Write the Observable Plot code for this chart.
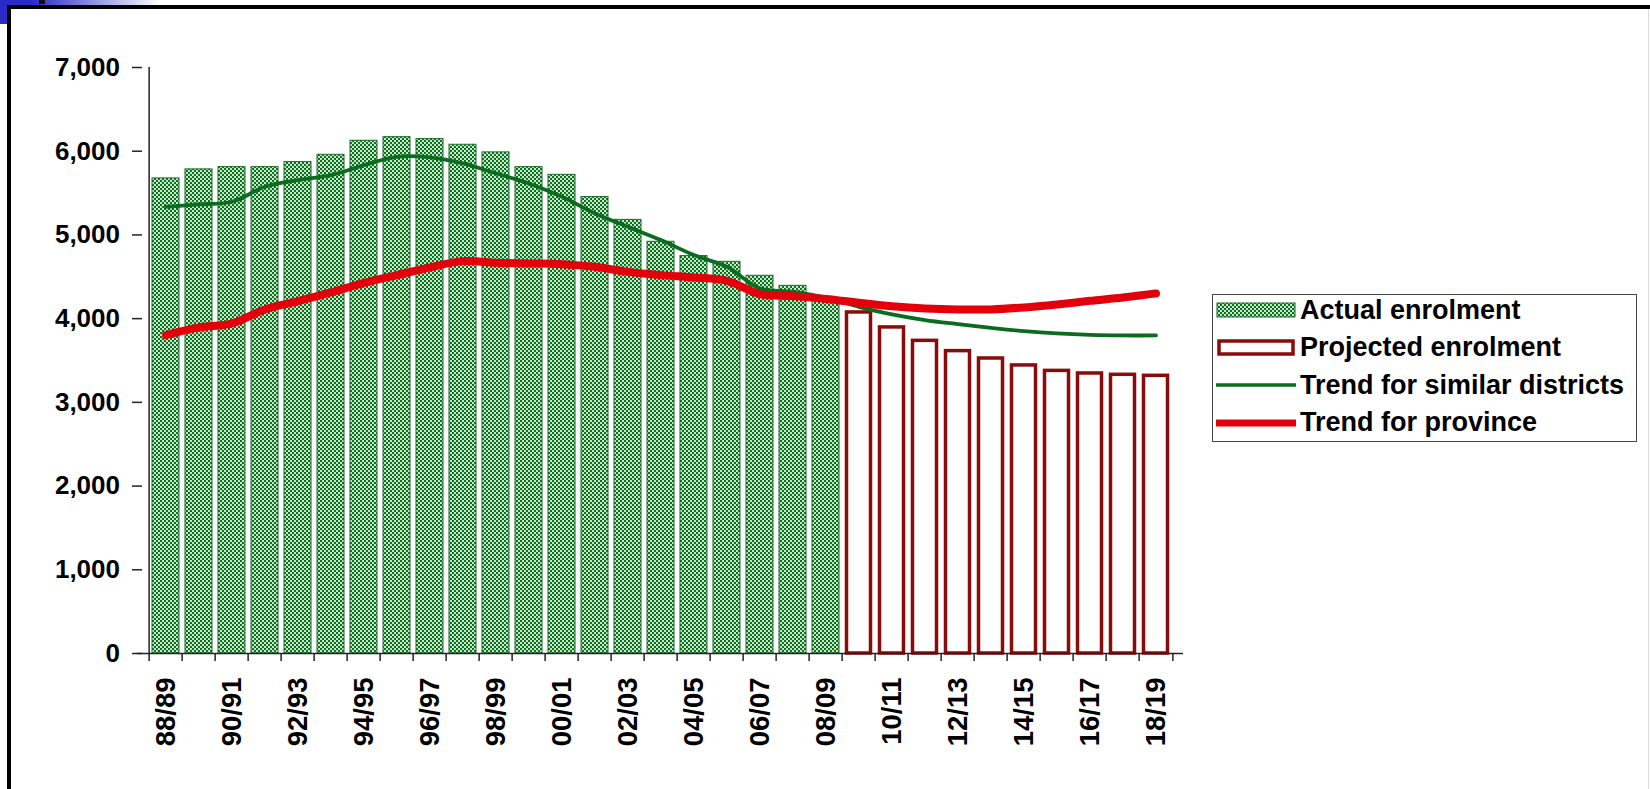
<!DOCTYPE html>
<html>
<head>
<meta charset="utf-8">
<script src="https://cdn.jsdelivr.net/npm/d3@7"></script>
<script src="https://cdn.jsdelivr.net/npm/@observablehq/plot@0.6"></script>
<style>
  html, body { margin: 0; padding: 0; background: #fff; }
  body { width: 1650px; height: 789px; position: relative; overflow: hidden; font-family: "Liberation Sans", Arial, sans-serif; }
  #chart { position: absolute; left: 0; top: 0; }
  .deco { position: absolute; }
  #legend { position: absolute; left: 1212px; top: 294px; width: 425px; height: 148px; box-sizing: border-box; border: 1.5px solid #444; background: #fff; }
  .row { position: absolute; left: 0; height: 36px; display: flex; align-items: center; }
  .row svg { display: block; margin-left: 3px; }
  .row span { font-weight: bold; font-size: 27px; color: #000; margin-left: 4px; white-space: nowrap; }
</style>
</head>
<body>
<svg width="0" height="0" style="position:absolute">
  <defs>
    <pattern id="chk" width="4" height="4" patternUnits="userSpaceOnUse">
      <rect width="4" height="4" fill="#c6eac7"></rect>
      <rect width="2" height="2" fill="#0f6e23"></rect>
      <rect x="2" y="2" width="2" height="2" fill="#0f6e23"></rect>
    </pattern>
  </defs>
</svg>
<div class="deco" style="left:0;top:0;width:160px;height:5px;background:linear-gradient(to right,#2a2ac8 0%,#2a2ac8 20%,#ffffff 100%);"></div>
<div class="deco" style="left:0;top:0;width:7px;height:24px;background:#2a2ac8;"></div>
<div class="deco" style="left:39px;top:0;width:6px;height:4px;background:#111;"></div>
<div id="chart"></div>
<div class="deco" style="left:7px;top:5px;width:1643px;height:4px;background:#000;"></div>
<div class="deco" style="left:7px;top:5px;width:4px;height:784px;background:#000;"></div>
<div class="deco" style="left:1648px;top:9px;width:1px;height:780px;background:#ddd;"></div>
<div id="legend"></div>
<script>
const years = ["88/89","89/90","90/91","91/92","92/93","93/94","94/95","95/96","96/97","97/98","98/99","99/00","00/01","01/02","02/03","03/04","04/05","05/06","06/07","07/08","08/09","09/10","10/11","11/12","12/13","13/14","14/15","15/16","16/17","17/18","18/19"];
const actualYears = years.slice(0, 21);
const projectedYears = years.slice(21);
const actualEnrolment = [5675, 5783, 5810, 5810, 5870, 5957, 6125, 6168, 6145, 6077, 5986, 5810, 5718, 5452, 5180, 4918, 4747, 4679, 4512, 4392, 4247];
const projectedEnrolment = [4074, 3895, 3735, 3612, 3524, 3441, 3376, 3345, 3329, 3317];
const trendSimilar = [5336, 5364, 5396, 5575, 5655, 5714, 5834, 5933, 5926, 5854, 5735, 5615, 5455, 5257, 5097, 4938, 4759, 4619, 4361, 4320, 4250, 4141, 4050, 3982, 3934, 3890, 3851, 3823, 3806, 3799, 3799];
const trendProvince = [3803, 3895, 3943, 4110, 4209, 4313, 4428, 4520, 4612, 4687, 4667, 4659, 4651, 4619, 4559, 4520, 4492, 4452, 4293, 4269, 4235, 4189, 4149, 4122, 4110, 4110, 4134, 4170, 4213, 4253, 4301];
const yTicks = [0, 1000, 2000, 3000, 4000, 5000, 6000, 7000];
const xLabelYears = years.filter((d, i) => i % 2 === 0);

const legendItems = [
  {label: "Actual enrolment", kind: "pattern"},
  {label: "Projected enrolment", kind: "outline"},
  {label: "Trend for similar districts", kind: "thin"},
  {label: "Trend for province", kind: "thick"}
];

const actualData = actualYears.map((y, i) => ({year: y, value: actualEnrolment[i]}));
const projectedData = projectedYears.map((y, i) => ({year: y, value: projectedEnrolment[i]}));
const similarData = years.map((y, i) => ({year: y, value: trendSimilar[i]}));
const provinceData = years.map((y, i) => ({year: y, value: trendProvince[i]}));

const W = 1650, H = 789, ML = 137, MR = 467, MT = 67, MB = 136;
const step = (W - ML - MR) / years.length;

const chart = Plot.plot({
  width: W,
  height: H,
  marginLeft: ML,
  marginRight: MR,
  marginTop: MT,
  marginBottom: MB,
  style: {fontFamily: "'Liberation Sans', Arial, sans-serif", color: "#000", background: "transparent"},
  x: {type: "band", domain: years, paddingInner: 0.19, paddingOuter: 0.095, label: null, axis: null},
  y: {domain: [0, 7000], label: null, axis: null},
  marks: [
    Plot.barY(actualData, {x: "year", y: "value", fill: "url(#chk)", stroke: "#1a6b28", strokeWidth: 1}),
    Plot.barY(projectedData, {x: "year", y: "value", fill: "#fff", stroke: "#8b0a0a", strokeWidth: 3.5, insetLeft: 1.5, insetRight: 1.5}),
    Plot.line(similarData, {x: "year", y: "value", stroke: "#0b6b1f", strokeWidth: 3.8, curve: "catmull-rom"}),
    Plot.line(provinceData, {x: "year", y: "value", stroke: "#e3000b", strokeWidth: 8, curve: "catmull-rom"}),
    Plot.ruleY([0], {stroke: "#222", strokeWidth: 1.5}),
    Plot.ruleX([years[0]], {y1: 0, y2: 7000, dx: -step / 2, stroke: "#222", strokeWidth: 1.5}),
    Plot.axisX(years, {tickSize: 8, tickFormat: null, dx: -step / 2, stroke: "#222", strokeWidth: 1.5}),
    Plot.axisX([years[years.length - 1]], {tickSize: 8, tickFormat: null, dx: step / 2, stroke: "#222", strokeWidth: 1.5}),
    Plot.axisX(xLabelYears, {tickSize: 0, tickPadding: 24, tickRotate: -90, fontSize: 27.5, fontWeight: "bold", fill: "#000"}),
    Plot.axisY(yTicks, {tickSize: 10, dx: 5, tickPadding: 12.5, tickFormat: d3.format(","), fontSize: 26, fontWeight: "bold", fill: "#000", stroke: "#222", strokeWidth: 1.5})
  ]
});
document.getElementById("chart").appendChild(chart);

// Legend
const legend = document.getElementById("legend");
const rowCenters = [15, 52.5, 90, 127.5];
legendItems.forEach((item, i) => {
  const row = document.createElement("div");
  row.className = "row";
  row.style.top = (rowCenters[i] - 18) + "px";
  let sw;
  if (item.kind === "pattern") {
    sw = `<svg width="80" height="20"><rect x="1" y="3" width="78" height="14" fill="url(#chk)" stroke="#1a6b28" stroke-width="1"></rect></svg>`;
  } else if (item.kind === "outline") {
    sw = `<svg width="80" height="20"><rect x="3" y="3" width="74" height="13" fill="#fff" stroke="#8b0a0a" stroke-width="3.5"></rect></svg>`;
  } else if (item.kind === "thin") {
    sw = `<svg width="80" height="20"><line x1="0" x2="80" y1="10" y2="10" stroke="#0b6b1f" stroke-width="3.5"></line></svg>`;
  } else {
    sw = `<svg width="80" height="20"><line x1="0" x2="80" y1="10" y2="10" stroke="#e3000b" stroke-width="7"></line></svg>`;
  }
  row.innerHTML = sw + `<span>${item.label}</span>`;
  legend.appendChild(row);
});
</script>
</body>
</html>
